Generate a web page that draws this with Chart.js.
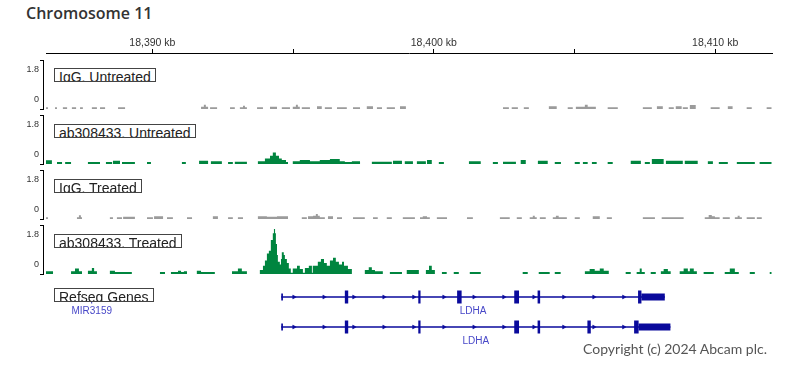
<!DOCTYPE html>
<html><head><meta charset="utf-8">
<script src="https://cdn.jsdelivr.net/npm/chart.js@4.4.1/dist/chart.umd.min.js"></script>
<style>
html,body{margin:0;padding:0;background:#fff;}
#wrap{position:relative;width:794px;height:378px;overflow:hidden;background:#fff;}
canvas{position:absolute;left:0;}
.title{position:absolute;left:26px;top:2px;font:600 16px "Open Sans";color:#333;white-space:nowrap;}
.lbl{position:absolute;left:54px;height:12px;line-height:10px;border:1px solid #444;padding:0 4px;font:14px "Liberation Sans",Arial,sans-serif;color:#222;background:#fff;overflow:hidden;white-space:nowrap;}
.copy{position:absolute;right:27px;top:340px;font:14px Lato;color:#555;white-space:nowrap;}
</style></head><body><div id="wrap">
<div class="title">Chromosome 11</div>
<canvas id="ruler" width="780" height="26" style="top:30px"></canvas>
<canvas id="t0" width="780" height="53" style="top:58px"></canvas>
<canvas id="t1" width="780" height="53" style="top:113px"></canvas>
<canvas id="t2" width="780" height="53" style="top:168px"></canvas>
<canvas id="t3" width="780" height="53" style="top:223px"></canvas>
<canvas id="genes" width="780" height="76" style="top:274px"></canvas>
<div class="lbl" id="l0" style="top:68px"></div>
<div class="lbl" id="l1" style="top:124px"></div>
<div class="lbl" id="l2" style="top:179px"></div>
<div class="lbl" id="l3" style="top:234px"></div>
<div class="lbl" id="l4" style="top:288px"></div>
<div class="copy">Copyright (c) 2024 Abcam plc.</div>
</div>
<script>
// ---------- data ----------
const viewStart = 18386.22, viewEnd = 18412.02;   // kb
const rulerTicks = [18390, 18395, 18400, 18405, 18410];
const trackNames = ['IgG, Untreated', 'ab308433, Untreated', 'IgG, Treated', 'ab308433, Treated'];
const dataRange = [0, 1.8];

// segments: [start kb, end kb, value]
const iggUntreated = [
[18386.22,18386.29,0.06],[18386.54,18386.61,0.06],[18386.82,18386.97,0.06],[18387.14,18387.29,0.06],
[18387.43,18387.53,0.06],[18387.85,18388.03,0.06],[18388.14,18388.32,0.06],[18388.78,18389.03,0.06],
[18391.73,18391.83,0.08],[18391.83,18391.90,0.16],[18391.90,18391.98,0.08],[18392.05,18392.30,0.06],
[18392.76,18392.93,0.06],[18393.11,18393.22,0.06],[18393.22,18393.29,0.12],[18393.29,18393.36,0.06],
[18393.72,18393.93,0.06],[18394.18,18394.43,0.08],[18394.60,18394.89,0.06],[18394.99,18395.10,0.08],
[18395.10,18395.17,0.16],[18395.17,18395.24,0.08],[18395.31,18395.60,0.06],[18395.85,18396.02,0.1],
[18396.13,18396.38,0.06],[18396.56,18396.91,0.06],[18397.13,18397.38,0.06],[18397.62,18397.84,0.1],
[18397.98,18398.16,0.06],[18398.33,18398.62,0.06],[18398.80,18399.01,0.1],[18402.46,18402.67,0.06],
[18402.77,18402.99,0.06],[18403.20,18403.38,0.06],[18404.09,18404.37,0.1],[18404.76,18404.94,0.06],
[18405.05,18405.37,0.08],[18405.37,18405.47,0.16],[18405.47,18405.76,0.08],[18406.18,18406.54,0.06],
[18407.43,18407.75,0.06],[18407.93,18408.14,0.1],[18408.35,18408.53,0.06],[18408.60,18408.81,0.1],
[18408.85,18409.03,0.06],[18409.10,18409.31,0.15],[18409.84,18410.16,0.06],[18410.45,18410.62,0.1],
[18411.12,18411.30,0.06],[18411.83,18412.01,0.06]
];
const abUntreated = [
[18386.22,18386.43,0.14],[18386.61,18386.79,0.07],[18386.90,18387.11,0.07],[18387.71,18388.14,0.07],
[18388.35,18388.57,0.07],[18388.60,18388.85,0.12],[18388.92,18389.38,0.07],[18389.81,18389.95,0.07],
[18391.05,18391.19,0.07],[18391.66,18391.98,0.12],[18392.08,18392.47,0.1],[18392.69,18392.86,0.07],
[18392.93,18393.36,0.08],[18393.75,18394.00,0.1],[18394.00,18394.18,0.2],[18394.18,18394.28,0.3],
[18394.28,18394.39,0.42],[18394.39,18394.50,0.3],[18394.50,18394.60,0.2],[18394.60,18394.75,0.15],
[18394.75,18394.82,0.07],[18394.99,18395.24,0.1],[18395.24,18395.60,0.15],[18395.60,18395.95,0.1],
[18395.95,18396.31,0.15],[18396.31,18396.66,0.18],[18396.66,18396.84,0.1],[18396.84,18397.09,0.07],
[18397.09,18397.38,0.1],[18397.80,18398.51,0.08],[18398.55,18398.87,0.12],[18398.97,18399.26,0.1],
[18399.40,18399.72,0.1],[18399.76,18399.93,0.15],[18400.18,18400.36,0.07],[18401.25,18401.67,0.1],
[18402.10,18402.28,0.07],[18402.46,18402.92,0.08],[18403.09,18403.27,0.15],[18403.70,18404.05,0.12],
[18404.30,18404.52,0.07],[18405.01,18405.19,0.07],[18405.30,18405.47,0.07],[18405.62,18405.79,0.07],
[18406.18,18406.36,0.07],[18407.00,18407.36,0.12],[18407.50,18407.68,0.07],[18407.75,18408.17,0.18],
[18408.25,18408.85,0.12],[18408.92,18409.38,0.12],[18409.74,18409.92,0.1],[18410.13,18410.45,0.07],
[18410.77,18411.41,0.07],[18411.58,18412.01,0.07]
];
const iggTreated = [
[18386.22,18386.29,0.06],[18387.32,18387.39,0.06],[18387.39,18387.46,0.14],[18387.46,18387.50,0.06],
[18388.49,18388.60,0.06],[18388.74,18388.92,0.06],[18388.96,18389.38,0.08],[18389.81,18390.02,0.06],
[18390.06,18390.38,0.1],[18390.52,18390.73,0.06],[18391.23,18391.41,0.06],[18392.15,18392.33,0.1],
[18392.69,18392.86,0.06],[18393.04,18393.22,0.06],[18393.75,18394.07,0.1],[18394.07,18394.43,0.08],
[18394.43,18394.82,0.1],[18395.31,18395.49,0.06],[18395.53,18395.71,0.1],[18395.71,18395.81,0.12],
[18395.81,18395.88,0.18],[18395.88,18395.95,0.12],[18395.95,18396.13,0.06],[18396.24,18396.42,0.1],
[18396.56,18396.74,0.06],[18397.13,18397.55,0.06],[18397.84,18398.01,0.06],[18398.33,18398.51,0.06],
[18398.90,18399.33,0.06],[18399.51,18399.61,0.06],[18399.61,18399.76,0.1],[18399.76,18399.86,0.06],
[18400.11,18400.47,0.06],[18401.18,18401.39,0.06],[18402.35,18402.70,0.06],[18402.95,18403.13,0.06],
[18403.41,18403.52,0.06],[18403.52,18403.59,0.12],[18403.59,18403.66,0.06],[18403.77,18403.98,0.06],
[18404.23,18404.34,0.06],[18404.34,18404.44,0.12],[18404.44,18404.73,0.06],[18405.01,18405.19,0.06],
[18405.65,18405.90,0.1],[18406.15,18406.33,0.06],[18407.43,18407.86,0.06],[18408.10,18408.88,0.06],
[18409.63,18409.77,0.06],[18409.77,18409.88,0.15],[18409.88,18409.99,0.1],[18409.99,18410.16,0.06],
[18410.27,18410.52,0.06],[18410.70,18410.80,0.06],[18410.80,18410.87,0.12],[18410.87,18410.95,0.06],
[18411.12,18411.41,0.06],[18411.48,18411.66,0.06]
];
const abTreated = [
[18386.22,18386.47,0.1],[18387.11,18387.25,0.1],[18387.25,18387.39,0.2],[18387.39,18387.50,0.1],
[18387.71,18387.85,0.12],[18387.85,18387.93,0.22],[18387.93,18388.03,0.1],[18388.49,18388.67,0.12],
[18388.67,18389.27,0.07],[18390.27,18390.45,0.07],[18390.66,18390.91,0.07],[18390.91,18391.02,0.12],
[18391.02,18391.12,0.07],[18391.12,18391.23,0.1],[18391.58,18391.73,0.12],[18391.73,18392.22,0.07],
[18392.83,18393.04,0.1],[18393.04,18393.18,0.2],[18393.18,18393.36,0.1],
[18393.82,18393.93,0.15],[18393.93,18394.00,0.3],[18394.00,18394.07,0.5],[18394.07,18394.14,0.75],
[18394.14,18394.21,0.85],[18394.21,18394.28,1.25],[18394.28,18394.32,1.5],[18394.32,18394.36,1.65],
[18394.36,18394.39,1.5],[18394.39,18394.43,1.1],[18394.43,18394.46,0.7],[18394.46,18394.53,0.45],
[18394.53,18394.57,0.35],[18394.57,18394.60,0.55],[18394.60,18394.67,0.8],[18394.67,18394.71,0.7],
[18394.71,18394.78,0.55],[18394.78,18394.85,0.4],[18394.85,18394.92,0.2],[18394.92,18394.99,0.05],
[18394.99,18395.14,0.2],[18395.14,18395.24,0.3],[18395.24,18395.35,0.18],[18395.35,18395.42,0.05],
[18395.42,18395.56,0.22],[18395.56,18395.67,0.3],[18395.67,18395.70,0.05],[18395.70,18395.88,0.3],
[18395.88,18395.99,0.45],[18395.99,18396.10,0.55],[18396.10,18396.20,0.4],[18396.20,18396.31,0.3],
[18396.31,18396.42,0.5],[18396.42,18396.52,0.6],[18396.52,18396.63,0.45],[18396.63,18396.74,0.35],
[18396.74,18396.81,0.45],[18396.81,18396.95,0.3],[18396.95,18397.09,0.18],
[18397.55,18397.69,0.15],[18397.69,18397.80,0.25],[18397.80,18397.91,0.15],[18397.91,18398.19,0.1],
[18398.44,18398.87,0.07],[18399.04,18399.47,0.15],[18399.72,18399.83,0.15],[18399.83,18399.93,0.3],
[18399.93,18400.04,0.15],[18400.29,18400.46,0.07],[18400.71,18400.89,0.07],[18401.28,18401.67,0.07],
[18403.16,18403.34,0.07],[18403.73,18404.12,0.07],[18404.30,18404.51,0.07],[18405.37,18405.54,0.1],
[18405.54,18405.72,0.18],[18405.72,18405.90,0.12],[18405.90,18406.04,0.2],[18406.04,18406.22,0.12],
[18406.82,18407.00,0.07],[18407.21,18407.32,0.07],[18407.32,18407.39,0.2],[18407.39,18407.50,0.07],
[18407.71,18407.89,0.07],[18408.07,18408.17,0.1],[18408.17,18408.32,0.18],[18408.32,18408.42,0.1],
[18408.74,18408.88,0.1],[18408.88,18409.03,0.2],[18409.03,18409.10,0.1],[18409.10,18409.24,0.2],
[18409.24,18409.35,0.1],[18409.59,18409.95,0.07],[18410.34,18410.52,0.07],[18410.52,18410.70,0.2],
[18410.70,18410.84,0.07],[18411.23,18411.41,0.07],[18411.94,18412.01,0.07]
];
const trackData = [iggUntreated, abUntreated, iggTreated, abTreated];

// genes
const geneNames = ['MIR3159', 'LDHA', 'LDHA'];
const geneRows = [1, 1, 3];
const geneStarts = [18387.83, 18394.58, 18394.58];
const geneEnds = [18387.86, 18408.21, 18408.41];
const codingExons = [
  [[18387.83, 18387.86]],
  [[18396.84,18396.96],[18399.45,18399.53],[18400.83,18400.99],[18402.86,18403.03],[18403.69,18403.78],[18407.26,18407.38]],
  [[18396.84,18396.96],[18399.45,18399.53],[18402.86,18403.03],[18403.69,18403.78],[18405.46,18405.58],[18407.12,18407.28]]
];
const utrExons = [
  [],
  [[18394.58,18394.64],[18407.38,18408.21]],
  [[18394.58,18394.64],[18407.28,18408.41]]
];
const arrowPos = [18395.03,18396.10,18397.16,18398.23,18399.29,18400.36,18401.43,18402.49,18403.56,18404.62,18405.69,18406.75];

// ---------- styles ----------
const colors = ['#9b9b9b', '#00853f', '#9b9b9b', '#00853f'];
const geneColor = '#0a0a9c';
const labelFont = '"Liberation Sans", Arial, sans-serif';
const padRight = 8;

function stepPoints(segs) {
  const pts = []; let prevEnd = null;
  for (const [s, e, v] of segs) {
    if (prevEnd !== null && s - prevEnd > 1e-6) pts.push({x: prevEnd, y: 0});
    pts.push({x: s, y: v}); prevEnd = e;
  }
  if (prevEnd !== null) pts.push({x: prevEnd, y: 0});
  return pts;
}

const baseOpts = {responsive: false, animation: false, events: [], devicePixelRatio: 1,
  plugins: {legend: {display: false}, tooltip: {enabled: false}}};

// ruler
new Chart(document.getElementById('ruler'), {
  type: 'scatter',
  data: {datasets: [{data: []}]},
  options: Object.assign({}, baseOpts, {
    layout: {padding: {left: 46, right: padRight, top: 0, bottom: 0}},
    scales: {
      x: {type: 'linear', position: 'top', min: viewStart, max: viewEnd,
        afterBuildTicks: s => { s.ticks = rulerTicks.map(v => ({value: v})); },
        afterFit: s => { s.height = 23; },
        ticks: {autoSkip: false, maxRotation: 0, padding: 0, color: '#333',
          font: {family: labelFont, size: 10.5},
          callback: v => (Math.round(v) % 10 === 0 ? Math.round(v).toLocaleString('en-US') + ' kb' : '')},
        grid: {drawOnChartArea: false, drawTicks: true, tickLength: 4, color: '#000', lineWidth: 1},
        border: {display: true, color: '#000', width: 1}},
      y: {display: false, min: 0, max: 1}
    }
  })
});

const rangeLabels = {
  id: 'rangeLabels',
  afterDraw(chart) {
    const y = chart.scales.y, ctx = chart.ctx;
    ctx.save();
    ctx.font = '9px ' + labelFont; ctx.fillStyle = '#333';
    ctx.textAlign = 'right'; ctx.textBaseline = 'middle';
    ctx.fillText(String(dataRange[1]), y.right - 4, y.top + 10);
    ctx.fillText(String(dataRange[0]), y.right - 4, y.bottom - 9);
    ctx.restore();
  }
};

const extra = (viewEnd - viewStart) * 3 / 726;
trackData.forEach((segs, i) => {
  document.getElementById('l' + i).textContent = trackNames[i];
  new Chart(document.getElementById('t' + i), {
    type: 'line',
    data: {datasets: [{data: stepPoints(segs), stepped: true, fill: 'origin',
      backgroundColor: colors[i], borderColor: 'rgba(0,0,0,0)', borderWidth: 0, pointRadius: 0}]},
    options: Object.assign({}, baseOpts, {
      layout: {padding: {left: 0, right: padRight, top: 2, bottom: 2}},
      scales: {
        x: {type: 'linear', display: false, min: viewStart - extra, max: viewEnd},
        y: {min: dataRange[0], max: dataRange[1], position: 'left',
          afterBuildTicks: s => { s.ticks = dataRange.map(v => ({value: v})); },
          afterFit: s => { s.width = 43; },
          ticks: {display: false},
          grid: {drawOnChartArea: false, drawTicks: true, tickLength: 3, color: '#000'},
          border: {display: true, color: '#000', width: 1}}
      }
    }),
    plugins: [rangeLabels]
  });
});
document.getElementById('l4').textContent = 'Refseq Genes';

// gene track
function gapLine(intervals, row) {
  const pts = [];
  intervals.forEach(([s, e]) => { pts.push({x: s, y: row}, {x: e, y: row}, {x: e, y: null}); });
  return pts;
}
const geneDatasets = [];
geneNames.forEach((n, g) => {
  const row = geneRows[g];
  if (geneEnds[g] - geneStarts[g] > 0.1) {
    geneDatasets.push({type: 'line', data: [{x: geneStarts[g], y: row}, {x: geneEnds[g], y: row}],
      borderColor: geneColor, borderWidth: 1.5, pointRadius: 0});
    geneDatasets.push({type: 'scatter', data: arrowPos.map(x => ({x, y: row})), pointStyle: 'triangle',
      rotation: 90, radius: 2.3, backgroundColor: geneColor, borderColor: geneColor, borderWidth: 0.5});
  }
  geneDatasets.push({type: 'line', data: gapLine(utrExons[g], row), borderColor: geneColor,
    borderWidth: 7, borderCapStyle: 'butt', pointRadius: 0, spanGaps: false});
  geneDatasets.push({type: 'line', data: gapLine(codingExons[g], row), borderColor: geneColor,
    borderWidth: 13, borderCapStyle: 'butt', pointRadius: 0, spanGaps: false});
});
const geneLabels = {
  id: 'geneLabels',
  afterDatasetsDraw(chart) {
    const x = chart.scales.x, y = chart.scales.y, ctx = chart.ctx;
    ctx.save();
    ctx.font = '10px ' + labelFont; ctx.fillStyle = '#4848c8';
    ctx.textAlign = 'center'; ctx.textBaseline = 'middle';
    geneNames.forEach((n, g) => {
      ctx.fillText(n, x.getPixelForValue((geneStarts[g] + geneEnds[g]) / 2), y.getPixelForValue(geneRows[g]) + 14.5);
    });
    ctx.restore();
  }
};
new Chart(document.getElementById('genes'), {
  type: 'line',
  data: {datasets: geneDatasets},
  options: Object.assign({}, baseOpts, {
    layout: {padding: {left: 46, right: padRight, top: 8, bottom: 8}},
    scales: {
      x: {type: 'linear', display: false, min: viewStart, max: viewEnd},
      y: {type: 'linear', display: false, min: 0, max: 4, reverse: true}
    }
  }),
  plugins: [geneLabels]
});
</script>
</body></html>
